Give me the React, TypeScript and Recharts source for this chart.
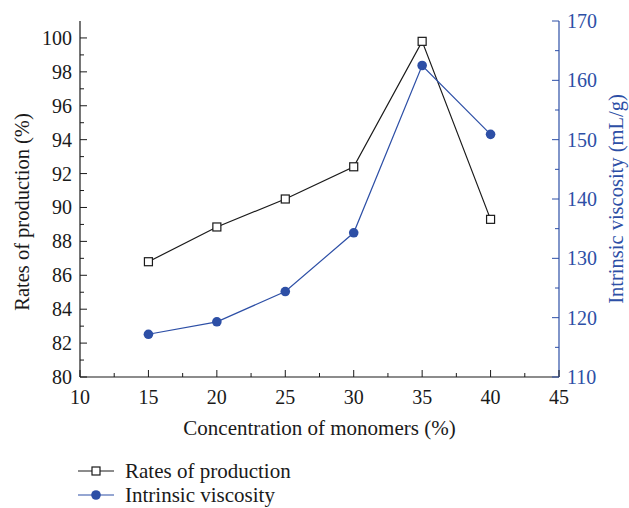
import { LineChart, Line, XAxis, YAxis } from "recharts"

// monomer concentration (%) and measured responses
const concentration = [15, 20, 25, 30, 35, 40]
const productionRate = [86.8, 88.85, 90.5, 92.4, 99.8, 89.3]
const intrinsicViscosity = [117.2, 119.3, 124.4, 134.3, 162.5, 150.9]

const xTicks = [10, 12.5, 15, 17.5, 20, 22.5, 25, 27.5, 30, 32.5, 35, 37.5, 40, 42.5, 45]
const rateTicks = [80, 81, 82, 83, 84, 85, 86, 87, 88, 89, 90, 91, 92, 93, 94, 95, 96, 97, 98, 99, 100]
const viscosityTicks = [110, 115, 120, 125, 130, 135, 140, 145, 150, 155, 160, 165, 170]

const data = concentration.map((c, i) => ({
  conc: c,
  rate: productionRate[i],
  viscosity: intrinsicViscosity[i],
}))

const FONT = "'Liberation Serif', 'Times New Roman', serif"
const INK = "#1a1a1a"
const BLUE = "#2d4fa6"
const MAJOR = 7
const MINOR = 4
const TICK_FONT = 20

const BottomTick = ({ x, y, payload }: any) => {
  const major = payload.value % 5 === 0
  return (
    <g>
      <line x1={x} x2={x} y1={y} y2={y - (major ? MAJOR : MINOR)} stroke={INK} />
      {major && (
        <text x={x} y={y + 27} textAnchor="middle" fontSize={TICK_FONT} fontFamily={FONT} fill={INK}>
          {payload.value}
        </text>
      )}
    </g>
  )
}

const TopTick = ({ x, y, payload }: any) => {
  const major = payload.value % 5 === 0
  return <line x1={x} x2={x} y1={y} y2={y + (major ? MAJOR : MINOR)} stroke={INK} />
}

const LeftTick = ({ x, y, payload }: any) => {
  const major = payload.value % 2 === 0
  return (
    <g>
      <line x1={x} x2={x + (major ? MAJOR : MINOR)} y1={y} y2={y} stroke={INK} />
      {major && (
        <text x={x - 8} y={y + 7} textAnchor="end" fontSize={TICK_FONT} fontFamily={FONT} fill={INK}>
          {payload.value}
        </text>
      )}
    </g>
  )
}

const RightTick = ({ x, y, payload }: any) => {
  const major = payload.value % 10 === 0
  return (
    <g>
      <line x1={x} x2={x - (major ? MAJOR : MINOR)} y1={y} y2={y} stroke={BLUE} />
      {major && (
        <text x={x + 8} y={y + 7} textAnchor="start" fontSize={TICK_FONT} fontFamily={FONT} fill={BLUE}>
          {payload.value}
        </text>
      )}
    </g>
  )
}

const SquareDot = ({ cx, cy, index }: any) => (
  <rect key={index} x={cx - 4} y={cy - 4} width={8} height={8} fill="#fff" stroke={INK} strokeWidth={1.2} />
)

const LegendRow = ({ label, color, square }: { label: string; color: string; square: boolean }) => (
  <div style={{ display: "flex", alignItems: "center", height: 24 }}>
    <svg width={36} height={14} style={{ marginRight: 11 }}>
      <line x1={0} x2={36} y1={7} y2={7} stroke={color} strokeWidth={1.2} />
      {square ? (
        <rect x={14} y={3} width={8} height={8} fill="#fff" stroke={color} strokeWidth={1.2} />
      ) : (
        <circle cx={18} cy={7} r={4.8} fill={color} />
      )}
    </svg>
    <span style={{ fontFamily: FONT, fontSize: 21, color: INK, lineHeight: "24px" }}>{label}</span>
  </div>
)

export default function App() {
  return (
    <div style={{ position: "absolute", left: 0, top: 0, width: 629, height: 508, background: "#fff", overflow: "hidden" }}>
      <LineChart width={629} height={508} data={data} margin={{ top: 21, right: 0, bottom: 71, left: 0 }}>
        <XAxis
          xAxisId="bottom"
          dataKey="conc"
          type="number"
          domain={[10, 45]}
          ticks={xTicks}
          interval={0}
          height={60}
          tickSize={0}
          tickMargin={0}
          tickLine={false}
          axisLine={{ stroke: INK, strokeWidth: 1.2 }}
          tick={<BottomTick />}
          label={({ viewBox }: any) => (
            <text
              x={viewBox.x + viewBox.width / 2}
              y={viewBox.y + 58}
              textAnchor="middle"
              fontSize={21}
              fontFamily={FONT}
              fill={INK}
            >
              Concentration of monomers (%)
            </text>
          )}
        />
        <XAxis
          xAxisId="top"
          orientation="top"
          dataKey="conc"
          type="number"
          domain={[10, 45]}
          ticks={xTicks}
          interval={0}
          height={0}
          tickSize={0}
          tickMargin={0}
          tickLine={false}
          axisLine={{ stroke: INK, strokeWidth: 1.2 }}
          tick={<TopTick />}
        />
        <YAxis
          yAxisId="rate"
          type="number"
          domain={[80, 101]}
          ticks={rateTicks}
          interval={0}
          width={80}
          tickSize={0}
          tickMargin={0}
          tickLine={false}
          axisLine={{ stroke: INK, strokeWidth: 1.2 }}
          tick={<LeftTick />}
          label={({ viewBox }: any) => {
            const cx = 29
            const cy = viewBox.y + viewBox.height / 2 + 13
            return (
              <text
                x={cx}
                y={cy}
                transform={`rotate(-90 ${cx} ${cy})`}
                textAnchor="middle"
                fontSize={20.5}
                fontFamily={FONT}
                fill={INK}
              >
                Rates of production (%)
              </text>
            )
          }}
        />
        <YAxis
          yAxisId="visc"
          orientation="right"
          type="number"
          domain={[110, 170]}
          ticks={viscosityTicks}
          interval={0}
          width={70}
          tickSize={0}
          tickMargin={0}
          tickLine={false}
          axisLine={{ stroke: BLUE, strokeWidth: 1.2 }}
          tick={<RightTick />}
          label={({ viewBox }: any) => {
            const cx = 623
            const cy = viewBox.y + viewBox.height / 2
            return (
              <text
                x={cx}
                y={cy}
                transform={`rotate(-90 ${cx} ${cy})`}
                textAnchor="middle"
                fontSize={20.5}
                fontFamily={FONT}
                fill={BLUE}
              >
                Intrinsic viscosity (mL/g)
              </text>
            )
          }}
        />
        <Line
          xAxisId="bottom"
          yAxisId="rate"
          dataKey="rate"
          type="linear"
          stroke={INK}
          strokeWidth={1.2}
          dot={<SquareDot />}
          activeDot={false}
          isAnimationActive={false}
        />
        <Line
          xAxisId="bottom"
          yAxisId="visc"
          dataKey="viscosity"
          type="linear"
          stroke={BLUE}
          strokeWidth={1.2}
          dot={{ r: 4.8, fill: BLUE, stroke: BLUE, strokeWidth: 0 }}
          activeDot={false}
          isAnimationActive={false}
        />
      </LineChart>
      <div style={{ position: "absolute", left: 78, top: 459 }}>
        <LegendRow label="Rates of production" color={INK} square />
        <LegendRow label="Intrinsic viscosity" color={BLUE} square={false} />
      </div>
    </div>
  )
}
